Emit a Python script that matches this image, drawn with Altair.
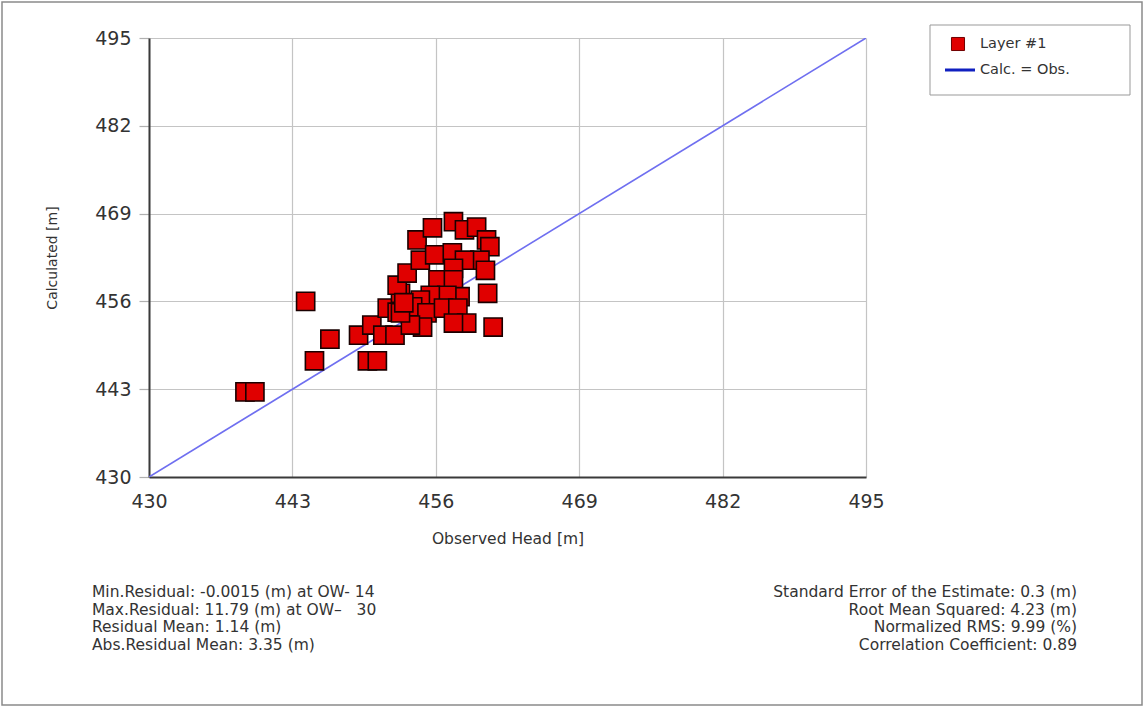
import altair as alt
import pandas as pd

# Observed vs calculated heads
observed = [438.7, 439.6, 444.2, 446.4, 445.0, 449.0, 450.2, 449.8, 450.7, 451.2,
            452.3, 451.6, 452.5, 452.8, 452.5, 453.4, 454.3, 454.6, 455.7, 455.9,
            457.5, 457.6, 458.6, 459.7, 460.6, 460.9, 460.0, 458.6, 460.5, 457.6,
            456.2, 457.6, 460.7, 458.2, 457.0, 455.5, 454.6, 453.9, 455.2, 456.7,
            458.0, 458.8, 457.6, 454.8, 453.7, 461.2, 452.8, 453.1]
calculated = [442.6, 442.6, 456.0, 450.4, 447.2, 451.0, 452.5, 447.2, 447.2, 451.0,
              451.0, 455.0, 454.4, 457.2, 458.4, 460.2, 465.1, 462.1, 466.9, 462.9,
              463.2, 467.8, 466.6, 467.0, 465.1, 464.1, 462.1, 462.1, 460.6, 460.9,
              459.2, 459.2, 457.2, 456.7, 456.9, 456.9, 456.2, 455.2, 454.3, 455.0,
              455.0, 452.8, 452.8, 452.2, 452.5, 452.2, 454.3, 455.8]
ticks = [430, 443, 456, 469, 482, 495]
diag = [430, 495]

legend_labels = ["Layer #1", "Calc. = Obs."]
left_stats = ["Min.Residual: -0.0015 (m) at OW- 14",
              "Max.Residual: 11.79 (m) at OW\u2013\u00a0\u00a0\u00a030",
              "Residual Mean: 1.14 (m)",
              "Abs.Residual Mean: 3.35 (m)"]
right_stats = ["Standard Error of the Estimate: 0.3 (m)",
               "Root Mean Squared: 4.23 (m)",
               "Normalized RMS: 9.99 (%)",
               "Correlation Coefficient: 0.89"]

FONT = "DejaVu Sans"
W, H = 717, 439

pts = pd.DataFrame({"obs": observed, "calc": calculated})
line_df = pd.DataFrame({"obs": diag, "calc": diag})

xs = alt.Scale(domain=[430, 495], nice=False, zero=False)
ys = alt.Scale(domain=[430, 495], nice=False, zero=False)

xax = alt.Axis(values=ticks, title="Observed Head [m]", labelFontSize=19, titleFontSize=15.5,
               labelFont=FONT, titleFont=FONT, titleFontWeight="normal", labelColor="#333",
               titleColor="#333", ticks=False, domain=True, domainColor="#3a3a3a",
               domainWidth=2, labelPadding=15, titlePadding=20, labelFlush=False,
               grid=True, gridColor="#c4c4c4", gridWidth=1.2)
yax = alt.Axis(values=ticks, title="Calculated [m]", labelFontSize=19, titleFontSize=14,
               labelFont=FONT, titleFont=FONT, titleFontWeight="normal", labelColor="#333",
               titleColor="#333", ticks=True, tickSize=10, tickColor="#b0b0b0", tickWidth=1.2,
               domain=True, domainColor="#3a3a3a", domainWidth=2, labelPadding=8,
               titlePadding=35, labelFlush=False,
               grid=True, gridColor="#c4c4c4", gridWidth=1.2)

line = alt.Chart(line_df).mark_line(color="#6f6ff0", strokeWidth=1.6, clip=True).encode(
    x=alt.X("obs:Q", scale=xs, axis=xax),
    y=alt.Y("calc:Q", scale=ys, axis=yax),
)

scatter = alt.Chart(pts).mark_square(size=330, color="#e00000", opacity=1,
                                      stroke="#1a0000", strokeWidth=1.6).encode(
    x=alt.X("obs:Q", scale=xs),
    y=alt.Y("calc:Q", scale=ys),
)

one = alt.Data(values=[{"a": 1}])

frame = alt.Chart(one).mark_rect(fill=None, stroke="#8a8a8a", strokeWidth=1.5).encode(
    x=alt.value(-147), x2=alt.value(993), y=alt.value(-36), y2=alt.value(667))

leg_box = alt.Chart(one).mark_rect(fill="white", stroke="#999999", strokeWidth=1).encode(
    x=alt.value(781), x2=alt.value(981), y=alt.value(-13), y2=alt.value(57))
leg_sq = alt.Chart(one).mark_square(size=170, color="#e00000", opacity=1,
                                    stroke="#700000", strokeWidth=1).encode(
    x=alt.value(809), y=alt.value(6))
leg_line = alt.Chart(one).mark_rule(color="#1020c0", strokeWidth=3).encode(
    x=alt.value(796), x2=alt.value(826), y=alt.value(32))
leg_t1 = alt.Chart(one).mark_text(align="left", baseline="middle", font=FONT, fontSize=14.5,
                                  color="#333").encode(
    x=alt.value(831), y=alt.value(6), text=alt.value(legend_labels[0]))
leg_t2 = alt.Chart(one).mark_text(align="left", baseline="middle", font=FONT, fontSize=14.5,
                                  color="#333").encode(
    x=alt.value(831), y=alt.value(32), text=alt.value(legend_labels[1]))

left_txt = alt.Chart(one).mark_text(align="left", baseline="middle", font=FONT, fontSize=15.5,
                                    lineHeight=17.7, color="#333").encode(
    x=alt.value(-57), y=alt.value(554), text=alt.value(left_stats))
right_txt = alt.Chart(one).mark_text(align="right", baseline="middle", font=FONT, fontSize=15.5,
                                     lineHeight=17.7, color="#333").encode(
    x=alt.value(928), y=alt.value(554), text=alt.value(right_stats))

chart = alt.layer(line, scatter, frame, leg_box, leg_sq, leg_line, leg_t1, leg_t2,
                  left_txt, right_txt).properties(
    width=W, height=H,
    autosize=alt.AutoSizeParams(type="none"),
    padding={"left": 149, "top": 38, "right": 279, "bottom": 230},
    background="white",
).configure_view(stroke=None)

chart.save("out.html", embed_options={"renderer": "svg", "actions": False})
